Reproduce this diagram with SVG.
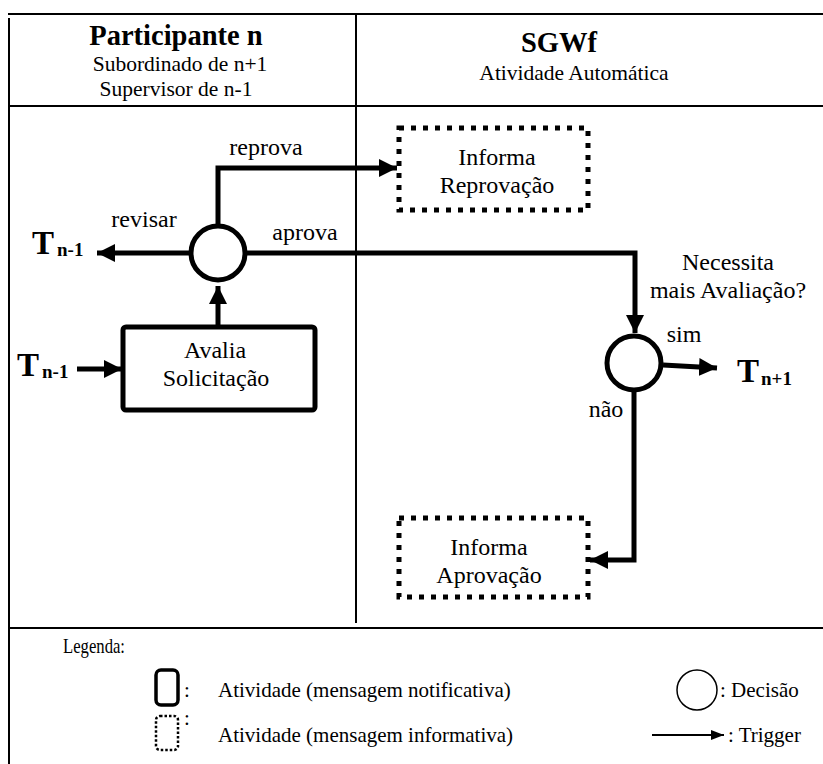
<svg xmlns="http://www.w3.org/2000/svg" width="823" height="764" viewBox="0 0 823 764">
  <style>
    text { font-family: "Liberation Serif", "Times New Roman", serif; fill: #000; }
    .hd { font-size: 28.5px; font-weight: bold; text-anchor: middle; }
    .sub { font-size: 21.5px; text-anchor: middle; }
    .lbl { font-size: 24px; text-anchor: middle; }
    .t { font-size: 33px; font-weight: bold; }
    .ts { font-size: 19px; font-weight: bold; }
    .leg { font-size: 21px; }
    .frame { stroke: #000; stroke-width: 2; fill: none; }
    .act { fill: #fff; stroke: #000; stroke-width: 5; }
    .info { fill: #fff; stroke: #000; stroke-width: 5; stroke-dasharray: 5 7; }
    .dec { fill: #fff; stroke: #000; stroke-width: 5; }
    .flow { fill: none; stroke: #000; stroke-width: 5; }
  </style>
  <defs>
    <marker id="head" markerUnits="userSpaceOnUse" markerWidth="20" markerHeight="20" viewBox="0 0 20 20" refX="18" refY="10" orient="auto">
      <path d="M0,1 L18,10 L0,19 Z" fill="#000"/>
    </marker>
    <marker id="headSmall" markerUnits="userSpaceOnUse" markerWidth="14" markerHeight="12" viewBox="0 0 14 12" refX="13" refY="6" orient="auto">
      <path d="M0,1 L13,6 L0,11 Z" fill="#000"/>
    </marker>
  </defs>

  <!-- swimlane frame -->
  <g id="frame">
    <line class="frame" x1="8" y1="14" x2="823" y2="14"/>
    <line class="frame" x1="9" y1="18" x2="9" y2="764"/>
    <line class="frame" x1="9" y1="106" x2="823" y2="106"/>
    <line class="frame" x1="356" y1="14" x2="356" y2="623"/>
    <line class="frame" x1="9" y1="628" x2="823" y2="628"/>
  </g>

  <!-- lane headers -->
  <g id="lane-participante">
    <text class="hd" x="176" y="45">Participante n</text>
    <text class="sub" x="180" y="71">Subordinado de n+1</text>
    <text class="sub" x="176" y="96">Supervisor de n-1</text>
  </g>
  <g id="lane-sgwf">
    <text class="hd" x="559" y="52">SGWf</text>
    <text class="sub" x="574" y="80">Atividade Automática</text>
  </g>

  <!-- connectors -->
  <g id="connectors">
    <line class="flow" x1="77" y1="369" x2="122" y2="369" marker-end="url(#head)"/>
    <line class="flow" x1="218" y1="327" x2="218" y2="286" marker-end="url(#head)"/>
    <line class="flow" x1="191" y1="253" x2="97" y2="253" marker-end="url(#head)"/>
    <polyline class="flow" points="218,224 218,168 397,168" marker-end="url(#head)"/>
    <polyline class="flow" points="247,253 635,253 635,333" marker-end="url(#head)"/>
    <line class="flow" x1="663" y1="365" x2="717" y2="368" marker-end="url(#head)"/>
    <polyline class="flow" points="634,392 634,560 590,560" marker-end="url(#head)"/>
  </g>

  <!-- connector labels -->
  <g id="labels">
    <text class="lbl" x="266" y="155">reprova</text>
    <text class="lbl" x="144" y="227">revisar</text>
    <text class="lbl" x="305" y="240">aprova</text>
    <text class="lbl" x="728" y="270">Necessita</text>
    <text class="lbl" x="728" y="298">mais Avaliação?</text>
    <text class="lbl" x="684" y="342">sim</text>
    <text class="lbl" x="606" y="417">não</text>
  </g>

  <!-- trigger terminals -->
  <g id="trigger-in">
    <text class="t" x="17" y="376">T</text><text class="ts" x="42" y="378">n-1</text>
  </g>
  <g id="trigger-revisar">
    <text class="t" x="32" y="254">T</text><text class="ts" x="57" y="256">n-1</text>
  </g>
  <g id="trigger-next">
    <text class="t" x="737" y="382">T</text><text class="ts" x="761" y="385">n+1</text>
  </g>

  <!-- activities -->
  <g id="avalia-solicitacao">
    <rect class="act" x="123" y="327" width="192" height="83" rx="3"/>
    <text class="lbl" x="215" y="358">Avalia</text>
    <text class="lbl" x="216" y="386">Solicitação</text>
  </g>
  <g id="informa-reprovacao">
    <rect class="info" x="399" y="128" width="189" height="82"/>
    <text class="lbl" x="497" y="165">Informa</text>
    <text class="lbl" x="497" y="193">Reprovação</text>
  </g>
  <g id="informa-aprovacao">
    <rect class="info" x="399" y="518" width="189" height="79"/>
    <text class="lbl" x="489" y="555">Informa</text>
    <text class="lbl" x="489" y="583">Aprovação</text>
  </g>

  <!-- decisions -->
  <g id="decisao-avaliacao">
    <circle class="dec" cx="218" cy="253" r="27"/>
  </g>
  <g id="decisao-mais-avaliacao">
    <circle class="dec" cx="634" cy="363" r="27"/>
  </g>

  <!-- legend -->
  <g id="legend">
    <text class="leg" x="63" y="653" textLength="62" lengthAdjust="spacingAndGlyphs">Legenda:</text>
    <rect x="156" y="670" width="22" height="35" rx="5" fill="none" stroke="#000" stroke-width="3.5"/>
    <text class="leg" x="184" y="697">:</text>
    <text class="leg" x="218" y="697">Atividade (mensagem notificativa)</text>
    <circle cx="697" cy="690" r="20" fill="none" stroke="#000" stroke-width="1.5"/>
    <text class="leg" x="720" y="697">: Decisão</text>
    <rect x="156" y="716" width="22" height="34" rx="4" fill="none" stroke="#000" stroke-width="2.5" stroke-dasharray="2.5 2"/>
    <text class="leg" x="184" y="725">:</text>
    <text class="leg" x="218" y="742">Atividade (mensagem informativa)</text>
    <line x1="652" y1="735" x2="724" y2="735" stroke="#000" stroke-width="2" marker-end="url(#headSmall)"/>
    <text class="leg" x="728" y="742">: Trigger</text>
  </g>
</svg>
